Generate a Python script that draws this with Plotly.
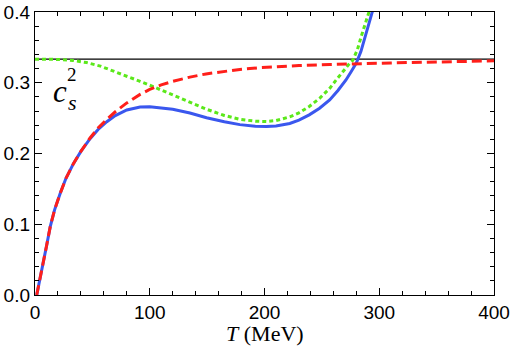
import plotly.graph_objects as go

# Speed of sound squared vs temperature
T_blue = [1.5, 4, 7.5, 10, 13.3, 17, 22, 27, 33.6, 40, 48, 55, 62.6, 70, 80, 91.6,
          100, 110, 120, 135, 149.5, 165, 178.5, 192, 201.7, 210, 222, 230, 239, 248,
          256.8, 264, 271, 276, 280, 284, 287, 290, 292, 294.4, 296]
cs2_blue = [0.0, 0.022, 0.0495, 0.069, 0.0966, 0.12, 0.1438, 0.165, 0.186, 0.203, 0.221,
            0.234, 0.245, 0.2535, 0.2615, 0.2658, 0.2662, 0.2648, 0.2625, 0.2572, 0.2505,
            0.2448, 0.2408, 0.2385, 0.238, 0.2388, 0.2425, 0.2472, 0.2546, 0.264, 0.2758,
            0.289, 0.304, 0.317, 0.3277, 0.344, 0.3607, 0.376, 0.388, 0.4, 0.412]

T_red = [1.5, 4, 7.5, 10, 13.3, 17, 22, 27, 33.6, 40, 48, 55, 62.6, 70, 80, 91.6, 100,
         110, 120, 135, 149, 165, 178.5, 195, 210, 230, 256.8, 280, 310, 340, 370, 400]
cs2_red = [0.0, 0.022, 0.0495, 0.069, 0.0966, 0.12, 0.1438, 0.165, 0.186, 0.203, 0.222,
           0.236, 0.2485, 0.259, 0.2715, 0.2835, 0.2905, 0.297, 0.302, 0.308, 0.3125,
           0.3162, 0.3188, 0.3212, 0.3228, 0.3243, 0.3258, 0.327, 0.328, 0.329, 0.330, 0.331]

T_green = [0, 10, 20, 33, 45, 57, 68, 80, 91.6, 103, 120, 135, 149.5, 165, 178.5, 192,
           201.7, 210, 222, 230, 239, 248, 256.8, 262, 268, 273, 277, 281, 284.3, 287,
           290, 291.6, 293]
cs2_green = [0.3333, 0.3333, 0.333, 0.3315, 0.3285, 0.3235, 0.317, 0.3095, 0.302, 0.2945,
             0.283, 0.2722, 0.2625, 0.2538, 0.2482, 0.2457, 0.2452, 0.2465, 0.2518, 0.2575,
             0.2664, 0.278, 0.292, 0.303, 0.3158, 0.325, 0.332, 0.347, 0.3654, 0.379,
             0.3937, 0.4, 0.41]

T_conformal = [0, 400]
cs2_conformal = [1 / 3, 1 / 3]

SERIF = "Liberation Serif, DejaVu Serif, serif"
SANS = "Liberation Sans, Arial, sans-serif"

fig = go.Figure()

fig.add_trace(go.Scatter(x=T_conformal, y=cs2_conformal, mode="lines",
                         line=dict(color="black", width=1.2)))
fig.add_trace(go.Scatter(x=T_blue, y=cs2_blue, mode="lines",
                         line=dict(color="#3a57ee", width=3)))
fig.add_trace(go.Scatter(x=T_green, y=cs2_green, mode="lines",
                         line=dict(color="#5be81a", width=3, dash="4px,3px")))
fig.add_trace(go.Scatter(x=T_red, y=cs2_red, mode="lines",
                         line=dict(color="#ff1f1a", width=3, dash="10px,5px")))

axis_common = dict(
    showgrid=False, zeroline=False, automargin=False,
    showline=True, linecolor="black", linewidth=1.4, mirror="allticks",
    ticks="inside", ticklen=7, tickwidth=1.4, tickcolor="black",
    tickfont=dict(family=SANS, size=19, color="black"),
)
minor_common = dict(ticks="inside", ticklen=4, tickcolor="black", tickwidth=1.2)

fig.update_layout(
    width=513, height=347,
    margin=dict(l=35, r=19, t=12, b=52),
    paper_bgcolor="white", plot_bgcolor="white",
    showlegend=False,
    xaxis=dict(range=[0, 400], dtick=100, minor=dict(dtick=20, **minor_common),
               **axis_common),
    yaxis=dict(range=[0, 0.4], dtick=0.1, tickformat=".1f",
               minor=dict(dtick=0.02, **minor_common), **axis_common),
)

# axis title
fig.add_annotation(xref="paper", yref="paper", x=0.5, y=-0.135, yanchor="middle",
                   text="<i>T</i> (MeV)", showarrow=False,
                   font=dict(family=SERIF, size=22, color="black"))

# c_s^2 label
fig.add_annotation(x=22, y=0.287, text="<i>c</i>", showarrow=False,
                   font=dict(family=SERIF, size=31, color="black"))
fig.add_annotation(x=32.5, y=0.312, text="2", showarrow=False,
                   font=dict(family=SERIF, size=19, color="black"))
fig.add_annotation(x=33, y=0.272, text="<i>s</i>", showarrow=False,
                   font=dict(family=SERIF, size=22, color="black"))

# page has a default 8px body margin; drop it so the figure fills the window
fig.write_html("out.html", config={"displayModeBar": False},
               post_script="document.body.style.margin='0';")
